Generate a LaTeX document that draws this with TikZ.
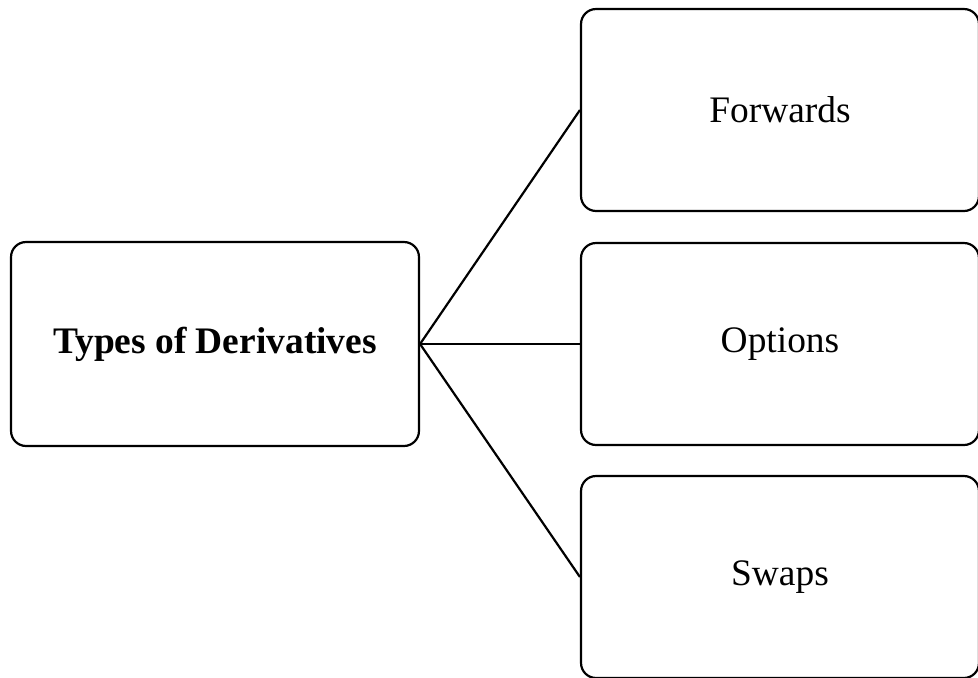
\documentclass[tikz,border=0pt]{standalone}
\usepackage{fontspec}
\setmainfont{Liberation Serif}
\usepackage{tikz}
\usetikzlibrary{positioning}
\tikzset{
    rootbox/.style  = {draw=black, line width=1.25pt, rounded corners=0.3cm, align=center,
                       minimum width=8.16cm, minimum height=4.08cm,
                       font=\fontsize{21.3}{25}\selectfont\bfseries},
    typebox/.style  = {draw=black, line width=1.25pt, rounded corners=0.3cm, align=center,
                       minimum width=7.96cm, minimum height=4.04cm,
                       font=\fontsize{21.3}{25}\selectfont},
    branch/.style   = {draw=black, line width=1.25pt}
}
\begin{document}
\begin{tikzpicture}[x=0.02cm, y=-0.02cm]
            \useasboundingbox                      (0.00, 0.00) rectangle (978.00, 677.00);
            \node[rootbox] (derivatives) at (215.00, 344.00) {Types of Derivatives};
            \node[typebox] (forwards)    at (780.00, 110.00) {Forwards};
            \node[typebox] (options)     at (780.00, 344.00) {Options};
            \node[typebox] (swaps)       at (780.00, 577.00) {Swaps};
            \draw[branch] (derivatives.east) -- (forwards.west);
            \draw[branch] (derivatives.east) -- (options.west);
            \draw[branch] (derivatives.east) -- (swaps.west);
        \end{tikzpicture}
\end{document}
